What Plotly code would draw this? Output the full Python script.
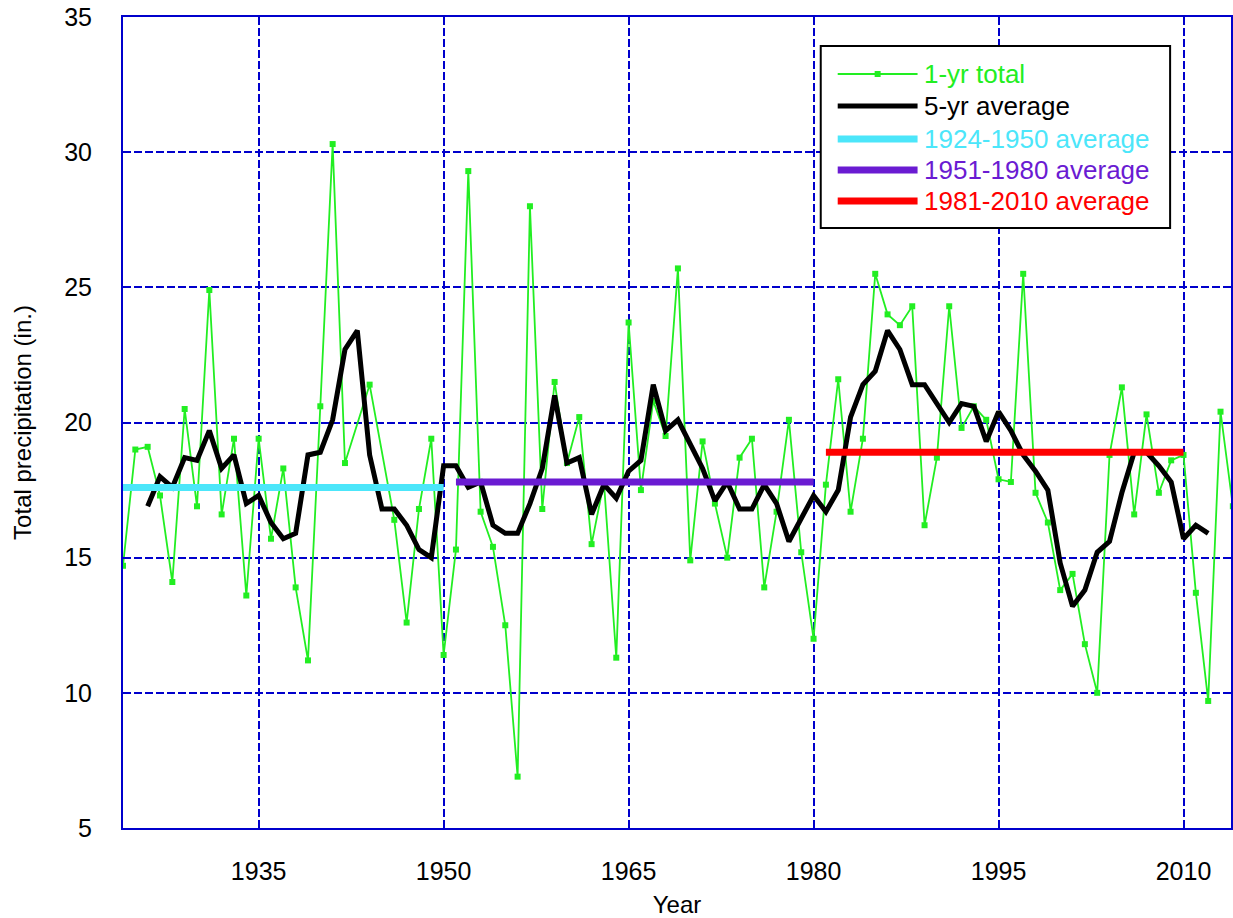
import plotly.graph_objects as go

# ---- data -----------------------------------------------------------------
years = list(range(1924, 2015))

# annual precipitation totals (in.); None = year without a value
annual_total = [
    14.7, 19.0, 19.1, 17.3, 14.1, 20.5, 16.9, 24.9, 16.6, 19.4,   # 1924-1933
    13.6, 19.4, 15.7, 18.3, 13.9, 11.2, 20.6, 30.3, 18.5, None,   # 1934-1943
    21.4, None, 16.4, 12.6, 16.8, 19.4, 11.4, 15.3, 29.3, 16.7,   # 1944-1953
    15.4, 12.5, 6.9, 28.0, 16.8, 21.5, 18.5, 20.2, 15.5, 17.8,    # 1954-1963
    11.3, 23.7, 17.5, 20.8, 19.5, 25.7, 14.9, 19.3, 17.0, 15.0,   # 1964-1973
    18.7, 19.4, 13.9, 16.7, 20.1, 15.2, 12.0, 17.7, 21.6, 16.7,   # 1974-1983
    19.4, 25.5, 24.0, 23.6, 24.3, 16.2, 18.7, 24.3, 19.8, 20.6,   # 1984-1993
    20.1, 17.9, 17.8, 25.5, 17.4, 16.3, 13.8, 14.4, 11.8, 10.0,   # 1994-2003
    18.8, 21.3, 16.6, 20.3, 17.4, 18.6, 18.8, 13.7, 9.7, 20.4,    # 2004-2013
    16.9,                                                         # 2014
]

avg5_years = list(range(1926, 2013))
avg5_values = [
    16.9, 18.0, 17.6, 18.7, 18.6, 19.7, 18.3, 18.8, 17.0, 17.3,   # 1926-1935
    16.3, 15.7, 15.9, 18.8, 18.9, 20.1, 22.7, 23.4, 18.8, 16.8,   # 1936-1945
    16.8, 16.2, 15.3, 15.0, 18.4, 18.4, 17.6, 17.8, 16.2, 15.9,   # 1946-1955
    15.9, 17.0, 18.3, 21.0, 18.5, 18.7, 16.6, 17.7, 17.2, 18.2,   # 1956-1965
    18.6, 21.4, 19.7, 20.1, 19.2, 18.3, 17.1, 17.8, 16.8, 16.8,   # 1966-1975
    17.7, 17.0, 15.6, 16.5, 17.3, 16.7, 17.5, 20.2, 21.4, 21.9,   # 1976-1985
    23.4, 22.7, 21.4, 21.4, 20.7, 20.0, 20.7, 20.6, 19.3, 20.4,   # 1986-1995
    19.7, 18.8, 18.2, 17.5, 14.8, 13.2, 13.8, 15.2, 15.6, 17.4,   # 1996-2005
    18.9, 18.9, 18.4, 17.8, 15.7, 16.2, 15.9,                     # 2006-2012
]

period_names = ["1924-1950 average", "1951-1980 average", "1981-2010 average"]
period_start = [1924, 1951, 1981]
period_end = [1950, 1980, 2010]
period_mean = [17.6, 17.8, 18.9]
period_colors = ["#4ce6fa", "#6a1bd2", "#ff0000"]

x_ticks = [1935, 1950, 1965, 1980, 1995, 2010]
y_ticks = [5, 10, 15, 20, 25, 30, 35]

GREEN = "#22ee22"
BLUE = "#0000cc"
FONT = "Liberation Sans, Arial, sans-serif"

# ---- figure ---------------------------------------------------------------
W, H = 1233, 918
ML, MR, MT, MB = 123, 0, 17, 90

fig = go.Figure()

fig.add_trace(go.Scatter(
    x=years, y=annual_total, name="1-yr total", mode="lines+markers",
    connectgaps=True,
    line=dict(color=GREEN, width=1.8),
    marker=dict(symbol="square", size=6, color=GREEN),
    showlegend=False,
))

fig.add_trace(go.Scatter(
    x=avg5_years, y=avg5_values, name="5-yr average", mode="lines",
    line=dict(color="black", width=5),
    showlegend=False,
))

for name, x0, x1, m, c in zip(period_names, period_start, period_end,
                              period_mean, period_colors):
    fig.add_trace(go.Scatter(
        x=[x0, x1], y=[m, m], name=name, mode="lines",
        line=dict(color=c, width=7),
        showlegend=False,
    ))

# ---- legend box drawn by hand (long line samples) -------------------------
def px_x(p):
    return (p - ML) / (W - ML - MR)


def px_y(p):
    return (H - MB - p) / (H - MT - MB)


shapes = [dict(type="rect", xref="paper", yref="paper",
               x0=px_x(822), x1=px_x(1172), y0=px_y(228), y1=px_y(46),
               line=dict(color="black", width=2), fillcolor="white",
               layer="above")]
annotations = []

legend_rows = [
    ("1-yr total", GREEN, 1.8, GREEN),
    ("5-yr average", "black", 5, "black"),
] + [(n, c, 7, c) for n, c in zip(period_names, period_colors)]

row_y = [74, 106, 139, 170, 201]
for (label, lc, lw, tc), ry in zip(legend_rows, row_y):
    shapes.append(dict(type="line", xref="paper", yref="paper",
                       x0=px_x(839), x1=px_x(919), y0=px_y(ry), y1=px_y(ry),
                       line=dict(color=lc, width=lw), layer="above"))
    annotations.append(dict(xref="paper", yref="paper", x=px_x(923),
                            y=px_y(ry), text=label, showarrow=False,
                            xanchor="left", yanchor="middle",
                            font=dict(family=FONT, size=26, color=tc)))
# marker in the "1-yr total" sample
shapes.append(dict(type="rect", xref="paper", yref="paper",
                   x0=px_x(876), x1=px_x(882), y0=px_y(77), y1=px_y(71),
                   line=dict(width=0), fillcolor=GREEN, layer="above"))

axis_common = dict(
    showline=True, linecolor=BLUE, linewidth=2, mirror="ticks",
    ticks="inside", ticklen=8, tickwidth=1.5, tickcolor=BLUE,
    showgrid=True, gridcolor=BLUE, gridwidth=1.8, griddash="8px,3px",
    zeroline=False,
    tickfont=dict(family=FONT, size=25, color="black"),
)

fig.update_layout(
    width=W, height=H,
    margin=dict(l=ML, r=MR, t=MT, b=MB),
    paper_bgcolor="white", plot_bgcolor="white",
    showlegend=False,
    xaxis=dict(range=[1924, 2013.85], tickvals=x_ticks,
               ticklabelstandoff=20,
               title=dict(text="Year", standoff=12,
                          font=dict(family=FONT, size=24, color="black")),
               **axis_common),
    yaxis=dict(range=[5, 35], tickvals=y_ticks,
               ticklabelstandoff=24,
               title=dict(text="Total precipitation (in.)", standoff=26,
                          font=dict(family=FONT, size=24, color="black")),
               **axis_common),
    shapes=shapes,
    annotations=annotations,
)

fig.write_html("out.html")
